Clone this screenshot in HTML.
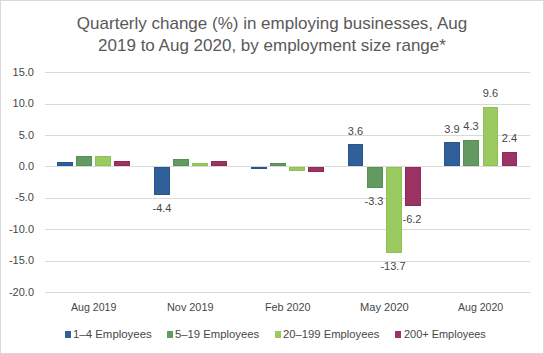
<!DOCTYPE html><html><head><meta charset="utf-8"><style>
html,body{margin:0;padding:0;background:#fff;}
#c{position:relative;width:544px;height:354px;overflow:hidden;background:#fff;font-family:"Liberation Sans",sans-serif;color:#474747;}
.t{position:absolute;white-space:nowrap;line-height:11px;font-size:11px;transform-origin:0 0;}
.g{position:absolute;left:45px;width:485px;height:1px;background:#d9d9d9;}
.b{position:absolute;box-sizing:border-box;}
.sq{position:absolute;width:6px;height:7px;top:331px;}
</style></head><body><div id="c">
<div style="position:absolute;left:0;top:0;width:544px;height:354px;border:1px solid #d9d9d9;box-sizing:border-box;"></div>
<div class="t" style="font-size:17px;line-height:17px;left:272px;top:15px;color:#595959;transform:translateX(-50%);">Quarterly change (%) in employing businesses, Aug</div>
<div class="t" style="font-size:17px;line-height:17px;left:272px;top:37px;color:#595959;transform:translateX(-50%);">2019 to Aug 2020, by employment size range*</div>
<div class="g" style="top:72px"></div>
<div class="t" style="right:510px;top:67px;">15.0</div>
<div class="g" style="top:104px"></div>
<div class="t" style="right:510px;top:98px;">10.0</div>
<div class="g" style="top:135px"></div>
<div class="t" style="right:510px;top:130px;">5.0</div>
<div class="g" style="top:166px"></div>
<div class="t" style="right:510px;top:161px;">0.0</div>
<div class="g" style="top:198px"></div>
<div class="t" style="right:510px;top:192px;">-5.0</div>
<div class="g" style="top:229px"></div>
<div class="t" style="right:510px;top:224px;">-10.0</div>
<div class="g" style="top:261px"></div>
<div class="t" style="right:510px;top:255px;">-15.0</div>
<div class="g" style="top:292px"></div>
<div class="t" style="right:510px;top:287px;">-20.0</div>
<div class="b" style="left:57px;top:162px;width:16px;height:4px;background:#305f99;border:1px solid #2a558c"></div>
<div class="b" style="left:76px;top:156px;width:16px;height:10px;background:#629a62;border:1px solid #578f57"></div>
<div class="b" style="left:95px;top:156px;width:16px;height:10px;background:#9aca60;border:1px solid #8fc055"></div>
<div class="b" style="left:114px;top:161px;width:16px;height:5px;background:#9b3464;border:1px solid #8f2a58"></div>
<div class="b" style="left:154px;top:167px;width:16px;height:28px;background:#305f99;border:1px solid #2a558c"></div>
<div class="t" style="left:142.00px;top:203px;width:40px;text-align:center;">-4.4</div>
<div class="b" style="left:173px;top:159px;width:16px;height:7px;background:#629a62;border:1px solid #578f57"></div>
<div class="b" style="left:192px;top:163px;width:16px;height:3px;background:#9aca60;border:1px solid #8fc055"></div>
<div class="b" style="left:211px;top:161px;width:16px;height:5px;background:#9b3464;border:1px solid #8f2a58"></div>
<div class="b" style="left:251px;top:167px;width:16px;height:2px;background:#305f99;border:1px solid #2a558c"></div>
<div class="b" style="left:270px;top:163px;width:16px;height:3px;background:#629a62;border:1px solid #578f57"></div>
<div class="b" style="left:289px;top:167px;width:16px;height:4px;background:#9aca60;border:1px solid #8fc055"></div>
<div class="b" style="left:308px;top:167px;width:16px;height:5px;background:#9b3464;border:1px solid #8f2a58"></div>
<div class="b" style="left:348px;top:144px;width:15px;height:22px;background:#305f99;border:1px solid #2a558c"></div>
<div class="t" style="left:335.50px;top:126px;width:40px;text-align:center;">3.6</div>
<div class="b" style="left:367px;top:167px;width:16px;height:21px;background:#629a62;border:1px solid #578f57"></div>
<div class="t" style="left:354.00px;top:196px;width:40px;text-align:center;">-3.3</div>
<div class="b" style="left:386px;top:167px;width:16px;height:86px;background:#9aca60;border:1px solid #8fc055"></div>
<div class="t" style="left:373.00px;top:261px;width:40px;text-align:center;">-13.7</div>
<div class="b" style="left:405px;top:167px;width:16px;height:39px;background:#9b3464;border:1px solid #8f2a58"></div>
<div class="t" style="left:392.00px;top:214px;width:40px;text-align:center;">-6.2</div>
<div class="b" style="left:444px;top:142px;width:16px;height:24px;background:#305f99;border:1px solid #2a558c"></div>
<div class="t" style="left:432.00px;top:124px;width:40px;text-align:center;">3.9</div>
<div class="b" style="left:463px;top:140px;width:16px;height:26px;background:#629a62;border:1px solid #578f57"></div>
<div class="t" style="left:451.00px;top:121px;width:40px;text-align:center;">4.3</div>
<div class="b" style="left:483px;top:107px;width:15px;height:59px;background:#9aca60;border:1px solid #8fc055"></div>
<div class="t" style="left:470.50px;top:88px;width:40px;text-align:center;">9.6</div>
<div class="b" style="left:502px;top:152px;width:15px;height:14px;background:#9b3464;border:1px solid #8f2a58"></div>
<div class="t" style="left:489.50px;top:133px;width:40px;text-align:center;">2.4</div>
<div class="t" style="left:70.90px;top:302px;transform:scaleX(0.9638)">Aug 2019</div>
<div class="t" style="left:166.50px;top:302px;transform:scaleX(0.9870)">Nov 2019</div>
<div class="t" style="left:264.90px;top:302px;transform:scaleX(0.9800)">Feb 2020</div>
<div class="t" style="left:359.50px;top:302px;transform:scaleX(1.0085)">May 2020</div>
<div class="t" style="left:458.20px;top:302px;transform:scaleX(0.9574)">Aug 2020</div>
<div class="sq" style="left:65px;background:#305f99"></div>
<div class="t" style="left:73.30px;top:329px;transform:scaleX(1.0387)">1–4 Employees</div>
<div class="sq" style="left:167px;background:#629a62"></div>
<div class="t" style="left:175.20px;top:329px;transform:scaleX(1.0284)">5–19 Employees</div>
<div class="sq" style="left:275px;background:#9aca60"></div>
<div class="t" style="left:283.30px;top:329px;transform:scaleX(1.0226)">20–199 Employees</div>
<div class="sq" style="left:395px;background:#9b3464"></div>
<div class="t" style="left:404.00px;top:329px;transform:scaleX(0.9951)">200+ Employees</div>
</div></body></html>
